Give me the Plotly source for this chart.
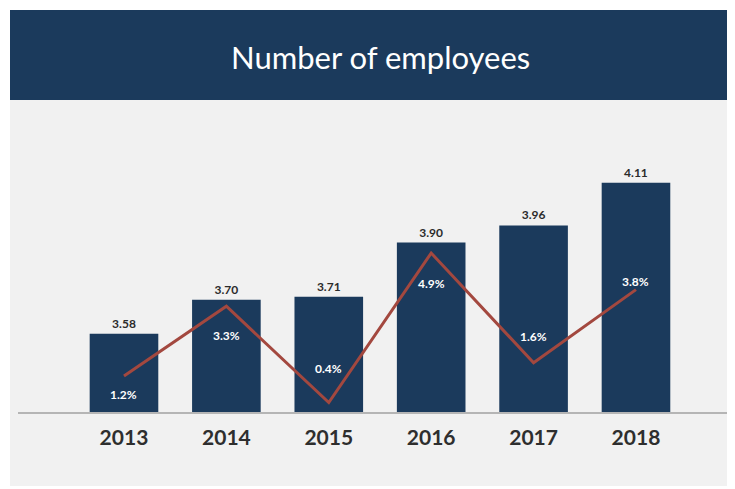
import plotly.graph_objects as go

years = ["2013", "2014", "2015", "2016", "2017", "2018"]
employees = [3.58, 3.70, 3.71, 3.90, 3.96, 4.11]
growth_pct = [1.2, 3.3, 0.4, 4.9, 1.6, 3.8]
value_labels = ["3.58", "3.70", "3.71", "3.90", "3.96", "4.11"]
growth_labels = ["1.2%", "3.3%", "0.4%", "4.9%", "1.6%", "3.8%"]
growth_label_shift = [-19, -29, 34, -30, 26, 8]

NAVY = "#1b3a5c"
LINE = "#a3483f"
PANEL = "#f1f1f1"

# page body has an 8px margin; compensate so the figure lands like the reference
OFF = 8
W, H = 735 - OFF, 489 - OFF
L, R, T, B = 18 - OFF, 0, 100 - OFF, 489 - 412
plot_h = H - T - B
plot_w = W - L - R

fig = go.Figure()
fig.add_trace(go.Bar(
    x=years, y=employees, width=0.67,
    marker=dict(color=NAVY, line=dict(width=0)),
    text=[f"<b>{v}</b>" for v in value_labels], textposition="outside",
    cliponaxis=False,
    textfont=dict(family="Lato", size=12, color="#2b2b2b"),
    hoverinfo="skip",
))
fig.add_trace(go.Scatter(
    x=years, y=growth_pct, yaxis="y2", mode="lines",
    line=dict(color=LINE, width=3), hoverinfo="skip",
))

annotations = []
for i, (g, lab, sh) in enumerate(zip(growth_pct, growth_labels, growth_label_shift)):
    annotations.append(dict(
        x=i, y=g, xref="x", yref="y2", text=f"<b>{lab}</b>", showarrow=False,
        yshift=sh, font=dict(family="Lato", size=12, color="white"),
    ))

def px_x(p):
    return (p - OFF - L) / plot_w

def px_y(p):
    return (H - B - (p - OFF)) / plot_h

annotations.append(dict(
    x=px_x(380), y=px_y(57), xref="paper", yref="paper",
    text="Number of employees", showarrow=False,
    font=dict(family="Lato", size=31, color="white"),
    xanchor="center", yanchor="middle",
))

shapes = [
    dict(type="rect", xref="paper", yref="paper", layer="below",
         x0=px_x(10), x1=1.0, y0=px_y(486), y1=px_y(100),
         fillcolor=PANEL, line=dict(width=0)),
    dict(type="rect", xref="paper", yref="paper", layer="below",
         x0=px_x(10), x1=1.0, y0=px_y(100), y1=px_y(10),
         fillcolor=NAVY, line=dict(width=0)),
]

fig.update_layout(
    width=W, height=H,
    margin=dict(l=L, r=R, t=T, b=B),
    paper_bgcolor="white", plot_bgcolor="rgba(0,0,0,0)",
    showlegend=False,
    annotations=annotations, shapes=shapes,
    xaxis=dict(
        type="category", range=[-1.035, 5.967],
        showline=True, linecolor="#b5b5b5", linewidth=1.5,
        showgrid=False, zeroline=False, ticks="",
        tickfont=dict(family="Lato", size=21, color="#2e2e2e", weight="bold"),
        ticklabelstandoff=6,
    ),
    yaxis=dict(range=[3.306, 4.40], visible=False),
    yaxis2=dict(range=[0.115, 9.51], overlaying="y", visible=False),
)

fig.write_html("out.html")
